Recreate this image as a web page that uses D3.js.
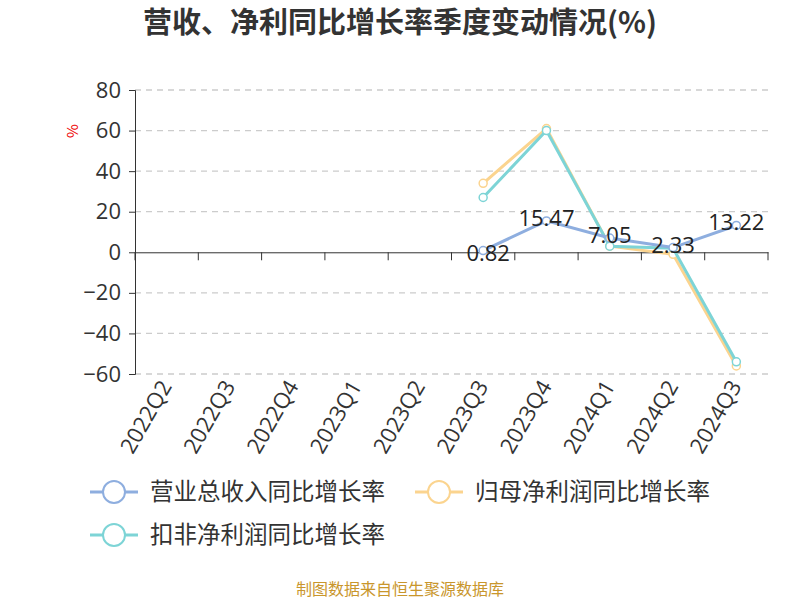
<!DOCTYPE html><html><head><meta charset="utf-8"><script src="https://cdn.jsdelivr.net/npm/d3@7"></script>
<style>body{margin:0;background:#fff}text{font-family:"Noto Sans CJK SC","Noto Sans",sans-serif}</style></head><body>
<svg id="c" width="800" height="600"></svg>
<script>
const categories=["2022Q2","2022Q3","2022Q4","2023Q1","2023Q2","2023Q3","2023Q4","2024Q1","2024Q2","2024Q3"];
const revenue=[null,null,null,null,null,0.82,15.47,7.05,2.33,13.22];
const netProfit=[null,null,null,null,null,34,61,3,-1,-56];
const deductedProfit=[null,null,null,null,null,27,60,3,2,-54];
const yTicks=[-60,-40,-20,0,20,40,60,80];
const seriesNames=["营业总收入同比增长率","归母净利润同比增长率","扣非净利润同比增长率"];
const colors=["#8eaedf","#fbd48f","#7dd4d6"];
const svg=d3.select("#c");
const x=d3.scaleBand().domain(categories).range([135,768]);
const y=d3.scaleLinear().domain([-60,80]).range([374,90]);
svg.append("text").attr("x",400).attr("y",33).attr("text-anchor","middle").attr("font-size",29).attr("font-weight","bold").attr("fill","#333").text("营收、净利同比增长率季度变动情况(%)");
svg.append("text").attr("transform","translate(78,131) rotate(-90)").attr("text-anchor","middle").attr("font-size",15).attr("fill","#e00").text("%");
yTicks.forEach(t=>{ if(t!==0) svg.append("line").attr("x1",135).attr("x2",768).attr("y1",y(t)).attr("y2",y(t)).attr("stroke","#ccc").attr("stroke-dasharray","6,5").attr("stroke-width",1.3);});
const ya=svg.append("g").attr("transform","translate(135,0)").call(d3.axisLeft(y).tickValues(yTicks).tickSize(6).tickPadding(8));
ya.selectAll("text").attr("font-size",22).attr("fill","#333").style("font-family","Open Sans");
ya.selectAll("line,path").attr("stroke","#333");
const xa=svg.append("g").attr("transform",`translate(0,${y(0)})`).call(d3.axisBottom(x).tickSize(0).tickFormat(""));
xa.select("path").attr("stroke","#333");
categories.concat([null]).forEach((c,i)=>{const px=135+x.step()*i;svg.append("line").attr("x1",px).attr("x2",px).attr("y1",y(0)).attr("y2",y(0)+8).attr("stroke","#333");});
categories.forEach(c=>{svg.append("text").attr("transform",`translate(${x(c)+x.bandwidth()/2+6},386) rotate(-60)`).attr("text-anchor","end").attr("font-size",22).attr("fill","#333").style("font-family","Open Sans").text(c);});
const all=[revenue,netProfit,deductedProfit];
const line=d3.line().defined(d=>d.v!=null).x(d=>x(d.c)+x.bandwidth()/2).y(d=>y(d.v));
[1,2,0].forEach(k=>{const data=categories.map((c,i)=>({c,v:all[k][i]}));
svg.append("path").datum(data).attr("d",line).attr("fill","none").attr("stroke",colors[k]).attr("stroke-width",3);
svg.selectAll(null).data(data.filter(d=>d.v!=null)).enter().append("circle").attr("cx",d=>x(d.c)+x.bandwidth()/2).attr("cy",d=>y(d.v)).attr("r",4).attr("fill","#fff").attr("stroke",colors[k]).attr("stroke-width",1.5);});
categories.forEach((c,i)=>{if(revenue[i]!=null)svg.append("text").attr("x",x(c)+x.bandwidth()/2+(i==5?5:0)).attr("y",y(revenue[i])+(i==5?10:5)).attr("text-anchor","middle").attr("font-size",22).attr("fill","#222").style("font-family","Open Sans").text(revenue[i].toFixed(2));});
const leg=[[90,492],[415,492],[90,535]];
seriesNames.forEach((n,k)=>{const [lx,ly]=leg[k];
svg.append("line").attr("x1",lx).attr("x2",lx+48).attr("y1",ly).attr("y2",ly).attr("stroke",colors[k]).attr("stroke-width",3);
svg.append("circle").attr("cx",lx+24).attr("cy",ly).attr("r",11).attr("fill","#fff").attr("stroke",colors[k]).attr("stroke-width",2);
svg.append("text").attr("x",lx+60).attr("y",ly+8).attr("font-size",23.5).attr("fill","#333").text(n);});
svg.append("text").attr("x",400).attr("y",595).attr("text-anchor","middle").attr("font-size",16).attr("fill","#c9962c").text("制图数据来自恒生聚源数据库");
</script></body></html>
